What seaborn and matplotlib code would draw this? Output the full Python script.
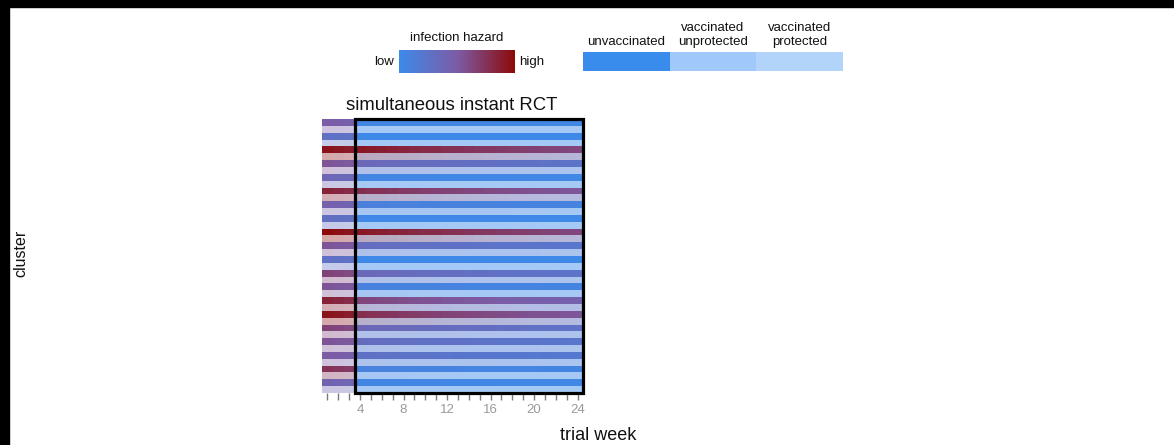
import numpy as np
import pandas as pd
import matplotlib
matplotlib.use("Agg")
import matplotlib.pyplot as plt
from matplotlib.colors import LinearSegmentedColormap, ListedColormap
from matplotlib.patches import Rectangle
import seaborn as sns

# ---- data -------------------------------------------------------------
weeks = list(range(1, 25))
labelled_weeks = [4, 8, 12, 16, 20, 24]
trial_start_week = 4
clusters = list(range(1, 21))
arms = ["unvaccinated", "vaccinated"]

# cluster hazard level before the trial starts (weeks 1-3)
pre_trial_hazard = [0.50, 0.28, 0.95, 0.55, 0.38, 0.85, 0.45, 0.30, 1.00, 0.55,
                    0.28, 0.65, 0.55, 0.85, 0.95, 0.65, 0.55, 0.50, 0.75, 0.42]
# cluster hazard level once the trial is running (weeks 4-24)
trial_hazard = [0.06, 0.02, 1.00, 0.40, 0.05, 0.85, 0.12, 0.03, 1.00, 0.35,
                0.02, 0.40, 0.10, 0.70, 0.85, 0.42, 0.35, 0.30, 0.10, 0.05]
# shared decline of the epidemic over trial weeks
weekly_trend = [1.00, 0.97, 0.94, 0.92, 0.90, 0.88, 0.86, 0.84, 0.82, 0.80, 0.79, 0.77,
                0.76, 0.74, 0.73, 0.72, 0.70, 0.69, 0.68, 0.67, 0.66, 0.65, 0.64, 0.63]

status_names = ["unvaccinated", "vaccinated\nunprotected", "vaccinated\nprotected"]
status_colors = ["#3a8cec", "#a0c8f8", "#b2d4fa"]
hazard_colors = ["#3c8aea", "#7c5ca6", "#8c0a0a"]

# ---- style ------------------------------------------------------------
sns.set_style("white")
plt.rcParams["font.family"] = ["Liberation Sans", "DejaVu Sans"]

W, H = 1174, 445
fig = plt.figure(figsize=(W / 100, H / 100), dpi=100, facecolor="white")


def fx(px):
    return px / W


def fy(py):
    return 1 - py / H


hazard_cmap = LinearSegmentedColormap.from_list("hazard", hazard_colors)

# ---- grids: one row per cluster arm -----------------------------------
hazard_rows, overlay_rows, row_index = [], [], []
for c, cl in enumerate(clusters):
    for arm in arms:
        h_row, o_row = [], []
        for i, w in enumerate(weeks):
            base = pre_trial_hazard[c] if w < trial_start_week else trial_hazard[c]
            h_row.append(base * weekly_trend[i])
            if arm == "unvaccinated":
                o_row.append(0)
            else:
                o_row.append(1 if w < trial_start_week else 2)
        hazard_rows.append(h_row)
        overlay_rows.append(o_row)
        row_index.append(f"{cl}-{arm}")

hazard_grid = pd.DataFrame(hazard_rows, index=row_index, columns=weeks)
overlay_grid = pd.DataFrame(overlay_rows, index=row_index, columns=weeks)

# pale washes over the vaccinated-arm rows: before / during the trial
overlay_cmap = ListedColormap([
    (1, 1, 1, 0.0),
    (1.0, 1.0, 1.0, 0.64),
    (0.80, 0.89, 0.99, 0.72),
])

ax = fig.add_axes([fx(322), fy(393), fx(583) - fx(322), fy(119) - fy(393)])
sns.heatmap(hazard_grid, cmap=hazard_cmap, vmin=0, vmax=1, cbar=False, ax=ax)
sns.heatmap(overlay_grid, cmap=overlay_cmap, vmin=-0.5, vmax=2.5, cbar=False,
            mask=(overlay_grid == 0), ax=ax)

ax.set_xticks(np.arange(len(weeks)) + 0.5)
ax.set_xticklabels([str(w) if w in labelled_weeks else "" for w in weeks],
                   rotation=0, fontsize=9.5, color="#9a9a9a")
ax.tick_params(axis="x", bottom=True, length=5, width=1.0, color="#7a7a7a", pad=3)
ax.set_yticks([])
ax.set_xlabel("")
ax.set_ylabel("")

# trial period outline
ax.add_patch(Rectangle((trial_start_week - 1, 0), len(weeks) - (trial_start_week - 1),
                       len(row_index), fill=False, ec="black", lw=2.3, clip_on=False,
                       zorder=5))

fig.text(fx(452), fy(106), "simultaneous instant RCT", ha="center", va="center",
         fontsize=13.3, color="#111111")
fig.text(fx(598), fy(435), "trial week", ha="center", va="center", fontsize=13,
         color="#111111")
fig.text(fx(21), fy(253), "cluster", ha="center", va="center", rotation=90,
         fontsize=11.5, color="#111111")

# ---- hazard legend ----------------------------------------------------
cax = fig.add_axes([fx(399), fy(73), fx(515) - fx(399), fy(50) - fy(73)])
ramp = pd.DataFrame([np.linspace(0, 1, 256)])
sns.heatmap(ramp, cmap=hazard_cmap, vmin=0, vmax=1, cbar=False, ax=cax,
            xticklabels=False, yticklabels=False)
fig.text(fx(457), fy(38), "infection hazard", ha="center", va="center",
         fontsize=9.5, color="#111111")
fig.text(fx(384), fy(62), "low", ha="center", va="center", fontsize=9.5,
         color="#111111")
fig.text(fx(532), fy(62), "high", ha="center", va="center", fontsize=9.5,
         color="#111111")

# ---- status legend ----------------------------------------------------
sax = fig.add_axes([fx(583), fy(71), fx(843) - fx(583), fy(52) - fy(71)])
swatch = pd.DataFrame([list(range(len(status_names)))])
sns.heatmap(swatch, cmap=ListedColormap(status_colors), vmin=-0.5,
            vmax=len(status_names) - 0.5, cbar=False, ax=sax,
            xticklabels=False, yticklabels=False)
for i, name in enumerate(status_names):
    sax.text(i + 0.5, -0.2, name, ha="center", va="bottom", fontsize=9.5,
             linespacing=1.25, color="#111111", transform=sax.transData)

# ---- dark frame along the top and left edges ---------------------------
fig.patches.append(Rectangle((0, fy(7)), 1, 7 / H, transform=fig.transFigure,
                             color="black", zorder=10))
fig.patches.append(Rectangle((0, 0), fx(9), 1, transform=fig.transFigure,
                             color="black", zorder=10))

fig.savefig("out.png", dpi=100, facecolor="white")
